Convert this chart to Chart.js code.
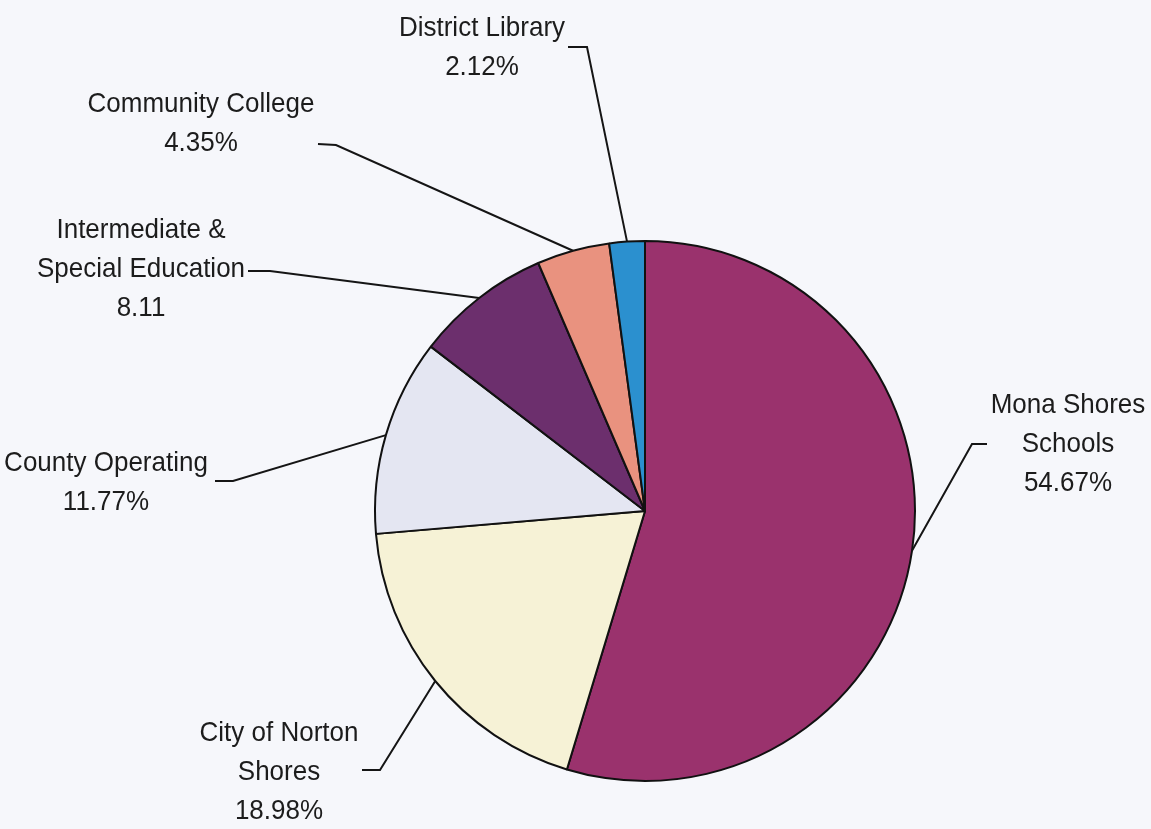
<!DOCTYPE html>
<html>
<head>
<meta charset="utf-8">
<script src="https://cdn.jsdelivr.net/npm/chart.js@4"></script>
<style>
  html, body { margin: 0; padding: 0; background: #f6f7fb; }
  #wrap { width: 1151px; height: 829px; position: relative; }
</style>
</head>
<body>
<div id="wrap"><canvas id="taxChart" width="1151" height="829"></canvas></div>
<script>
// slices, clockwise from 12 o'clock
const categories = [
  "Mona Shores Schools",
  "City of Norton Shores",
  "County Operating",
  "Intermediate & Special Education",
  "Community College",
  "District Library"
];
const shares = [54.67, 18.98, 11.77, 8.11, 4.35, 2.12];
const labelLines = [
  ["Mona Shores", "Schools", "54.67%"],
  ["City of Norton", "Shores", "18.98%"],
  ["County Operating", "11.77%"],
  ["Intermediate &", "Special Education", "8.11"],
  ["Community College", "4.35%"],
  ["District Library", "2.12%"]
];
const sliceColors = ["#9a326d", "#f6f2d6", "#e4e6f2", "#6c2f6d", "#e9927f", "#2b90cf"];

// where each label sits: elbow of leader, end of leader, text centre x, first line centre y
const labelLayout = [
  { elbow: [972, 444], end: [987, 444], x: 1068, y: 405 },
  { elbow: [380, 770], end: [362, 770], x: 279, y: 733 },
  { elbow: [233, 481], end: [215, 481], x: 106, y: 463 },
  { elbow: [270, 271], end: [248, 271], x: 141, y: 230 },
  { elbow: [336, 145], end: [318, 144], x: 201, y: 104 },
  { elbow: [587, 47], end: [568, 47], x: 482, y: 28 }
];

const leaderLabels = {
  id: "leaderLabels",
  afterDatasetsDraw(chart) {
    const ctx = chart.ctx;
    const arcs = chart.getDatasetMeta(0).data;
    ctx.save();
    ctx.strokeStyle = "#151515";
    ctx.lineWidth = 2;
    ctx.fillStyle = "#1c1c1c";
    ctx.font = "26px 'Liberation Sans', Arial, sans-serif";
    ctx.textAlign = "center";
    ctx.textBaseline = "middle";
    arcs.forEach((arc, i) => {
      const p = arc.getProps(["x", "y", "startAngle", "endAngle", "outerRadius"], true);
      const mid = (p.startAngle + p.endAngle) / 2;
      const sx = p.x + Math.cos(mid) * p.outerRadius;
      const sy = p.y + Math.sin(mid) * p.outerRadius;
      const lay = labelLayout[i];
      ctx.beginPath();
      ctx.moveTo(sx, sy);
      ctx.lineTo(lay.elbow[0], lay.elbow[1]);
      ctx.lineTo(lay.end[0], lay.end[1]);
      ctx.stroke();
      labelLines[i].forEach((line, j) => {
        const ly = lay.y + j * 39;
        ctx.save();
        ctx.translate(lay.x, ly);
        ctx.scale(1, 1.08);
        ctx.fillText(line, 0, 0);
        ctx.restore();
      });
    });
    ctx.restore();
  }
};

new Chart(document.getElementById("taxChart"), {
  type: "pie",
  data: {
    labels: categories,
    datasets: [{
      data: shares,
      backgroundColor: sliceColors,
      borderColor: "#111111",
      borderWidth: 2
    }]
  },
  options: {
    responsive: false,
    animation: false,
    layout: { padding: { left: 374, right: 235, top: 240, bottom: 47 } },
    plugins: {
      legend: { display: false },
      tooltip: { enabled: false }
    }
  },
  plugins: [leaderLabels]
});
</script>
</body>
</html>
